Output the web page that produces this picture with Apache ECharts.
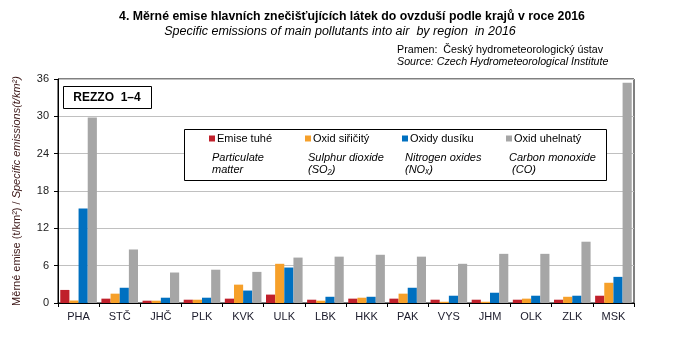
<!DOCTYPE html>
<html><head><meta charset="utf-8">
<script src="https://cdn.jsdelivr.net/npm/echarts@6/dist/echarts.min.js"></script>
<style>html,body{margin:0;padding:0;background:#fff}#c{width:696px;height:338px}</style>
</head><body><div id="c"></div>
<script>
const categories = ['PHA','STČ','JHČ','PLK','KVK','ULK','LBK','HKK','PAK','VYS','JHM','OLK','ZLK','MSK'];
const particulate = [2.1,0.7,0.37,0.53,0.7,1.35,0.53,0.7,0.7,0.53,0.53,0.53,0.53,1.17];
const sulphur = [0.4,1.5,0.37,0.53,2.95,6.3,0.37,0.85,1.5,0.2,0.2,0.7,1.0,3.25];
const nitrogen = [15.2,2.45,0.85,0.85,2.0,5.7,1.0,1.0,2.45,1.17,1.65,1.17,1.17,4.2];
const carbon = [29.8,8.6,4.9,5.35,5.0,7.3,7.45,7.75,7.45,6.3,7.9,7.9,9.85,35.4];
const yTicks = {min:0, max:36, interval:6};
const seriesNamesCz = ['Emise tuhé','Oxid siřičitý','Oxidy dusíku','Oxid uhelnatý'];
const seriesNamesEn = [['Particulate','matter'],['Sulphur dioxide','(SO₂)'],['Nitrogen oxides','(NOₓ)'],['Carbon monoxide',' (CO)']];
const colors = ['#C0202B','#F6A02A','#0070C0','#A6A6A6'];

const chart = echarts.init(document.getElementById('c'));
const data = [particulate, sulphur, nitrogen, carbon];
const legX = [209, 305, 402, 506];
const font = 'Liberation Sans, Arial, sans-serif';
const narrow = '"Liberation Sans Narrow", "Arial Narrow", sans-serif';

const graphics = [
  {type:'text', x:352, y:17, style:{text:'4. Měrné emise hlavních znečišťujících látek do ovzduší podle krajů v roce 2016', font:'bold 12.3px '+narrow, fill:'#000', textAlign:'center', textVerticalAlign:'middle'}},
  {type:'text', x:340, y:32, style:{text:'Specific emissions of main pollutants into air  by region  in 2016', font:'italic 12.5px '+narrow, fill:'#000', textAlign:'center', textVerticalAlign:'middle'}},
  {type:'text', left:397, top:45, style:{text:'Pramen:  Český hydrometeorologický ústav', font:'10.7px '+narrow, fill:'#000'}},
  {type:'text', left:397, top:57, style:{text:'Source: Czech Hydrometeorological Institute', font:'italic 10.7px '+narrow, fill:'#000'}},
  {type:'rect', shape:{x:63.5,y:86.5,width:88,height:22}, style:{fill:'#fff', stroke:'#000', lineWidth:1}, z:10},
  {type:'text', x:107, y:98, style:{text:'REZZO  1–4', font:'bold 12px '+font, fill:'#000', textAlign:'center', textVerticalAlign:'middle'}, z:11},
  {type:'rect', shape:{x:184.5,y:129.5,width:422,height:51}, style:{fill:'#fff', stroke:'#000', lineWidth:1}, z:10}
];
seriesNamesEn.forEach((lines,i)=>{
  lines.forEach((t,j)=>{
    graphics.push({type:'text', x:legX[i]+3, y:158+j*12, style:{text:t, font:'italic 11px '+font, fill:'#000', textVerticalAlign:'middle'}, z:11});
  });
});

const legends = seriesNamesCz.map((n,i)=>({
  data:[n], left:legX[i], top:133, padding:0, itemWidth:6, itemHeight:6, icon:'rect', z:12,
  textStyle:{fontFamily:font, fontSize:11, color:'#000', padding:[0,0,0,-3]}, selectedMode:false
}));

chart.setOption({
  animation:false,
  textStyle:{fontFamily:font},
  legend: legends,
  graphic: graphics,
  grid:{left:58, right:62, top:79, bottom:35, show:true, borderColor:'#000', borderWidth:1},
  xAxis:{type:'category', data:categories,
    axisLine:{lineStyle:{color:'#000'}},
    axisTick:{show:true, length:4, lineStyle:{color:'#000'}},
    axisLabel:{color:'#1a1a2a', fontSize:11, margin:8}},
  yAxis:{type:'value', min:yTicks.min, max:yTicks.max, interval:yTicks.interval,
    axisLine:{show:true, lineStyle:{color:'#000'}},
    axisTick:{show:true, length:4, lineStyle:{color:'#000'}},
    axisLabel:{color:'#222', fontSize:11, margin:9},
    splitLine:{lineStyle:{color:'#C0C0C0'}},
    name:'{a|Měrné emise (t/km²) / }{b|Specific emissions(t/km²)}',
    nameLocation:'middle', nameGap:36, nameRotate:90,
    nameTextStyle:{rich:{a:{fontSize:11, color:'#3a1515', fontFamily:font}, b:{fontSize:11, color:'#3a1515', fontStyle:'italic', fontFamily:font}}}},
  series: seriesNamesCz.map((n,i)=>({
    name:n, type:'bar', data:data[i], barGap:0, barCategoryGap:'11%',
    itemStyle:{color:colors[i]}
  }))
});
</script></body></html>
